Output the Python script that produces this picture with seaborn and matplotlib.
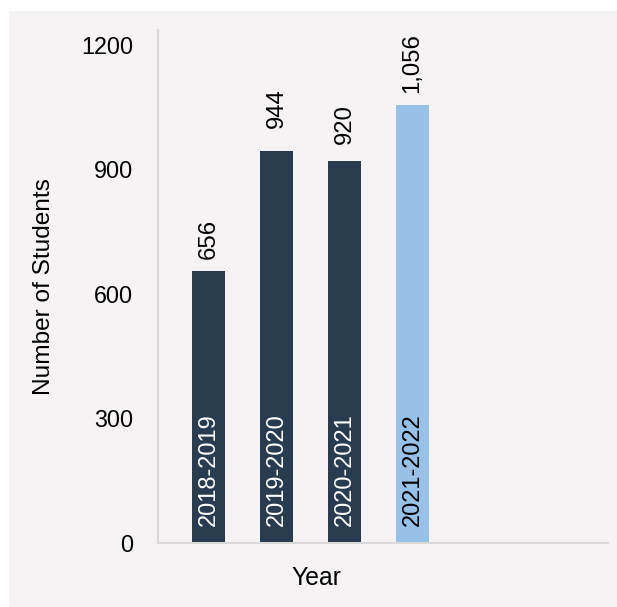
import matplotlib
matplotlib.use("Agg")
import matplotlib.pyplot as plt
from matplotlib import font_manager as fm
from matplotlib.patches import Rectangle
import seaborn as sns
import pandas as pd

# Enrolment per academic year
years = ["2018-2019", "2019-2020", "2020-2021", "2021-2022"]
students = [656, 944, 920, 1056]
bar_colors = ["#283b4f", "#283b4f", "#283b4f", "#97c1e7"]
inner_text_colors = ["white", "white", "white", "black"]
y_ticks = [0, 300, 600, 900, 1200]

panel_color = "#f5f3f4"
axis_color = "#d9d9d9"

sns.set_theme(style="white")

# regular-width Liberation Sans (skip the Narrow cut)
regular = [f.fname for f in fm.fontManager.ttflist
           if f.name == "Liberation Sans" and "Narrow" not in f.fname
           and f.weight in (400, "normal", "regular") and f.style == "normal"]


def font(size):
    if regular:
        return fm.FontProperties(fname=regular[0], size=size)
    return fm.FontProperties(family="DejaVu Sans", size=size)


df = pd.DataFrame({"Year": years, "Students": students})

fig = plt.figure(figsize=(6.17, 6.07), dpi=100, facecolor="white")
# light panel behind the chart
panel = Rectangle((9 / 617, 0), 1 - 9 / 617, (607 - 11) / 607,
                  transform=fig.transFigure, facecolor=panel_color,
                  edgecolor="none", zorder=-10)
fig.add_artist(panel)

ax = fig.add_axes([158 / 617, (607 - 543) / 607, 450 / 617, 513 / 607])
ax.set_facecolor(panel_color)
ax.set_zorder(1)

sns.barplot(data=df, x="Year", y="Students", hue="Year",
            palette=dict(zip(years, bar_colors)), width=0.485,
            legend=False, saturation=1, linewidth=0, ax=ax)

ax.set_xlim(-0.743, 5.875)
ax.set_ylim(0, 1236)
ax.set_yticks(y_ticks)
ax.set_yticklabels([str(t) for t in y_ticks], fontproperties=font(16.8),
                   color="black")
ax.tick_params(axis="y", length=0, pad=18)
ax.set_xticks([])

for side in ["top", "right"]:
    ax.spines[side].set_visible(False)
for side in ["left", "bottom"]:
    ax.spines[side].set_color(axis_color)
    ax.spines[side].set_linewidth(1.5)

# value labels above each bar
label_pads = [8.5, 17, 12, 8.5]
for container, pad in zip(ax.containers, label_pads):
    ax.bar_label(container, fmt="{:,.0f}", rotation=90, padding=pad,
                 fontproperties=font(17.2), color="black")

# year names written inside the bars
for i, (name, tc) in enumerate(zip(years, inner_text_colors)):
    ax.annotate(name, xy=(i, 0), xytext=(0.5, 12), textcoords="offset points",
                rotation=90, ha="center", va="bottom", fontproperties=font(17),
                color=tc)

ax.set_xlabel("Year", fontproperties=font(17.8), color="black")
ax.xaxis.set_label_coords(0.353, -0.068)
ax.xaxis.label.set_va("center")
ax.set_ylabel("Number of Students", fontproperties=font(17.6), color="black")
ax.yaxis.set_label_coords(-0.254, 0.5)
ax.yaxis.label.set_va("center")

fig.savefig("out.png", dpi=100, facecolor="white")
